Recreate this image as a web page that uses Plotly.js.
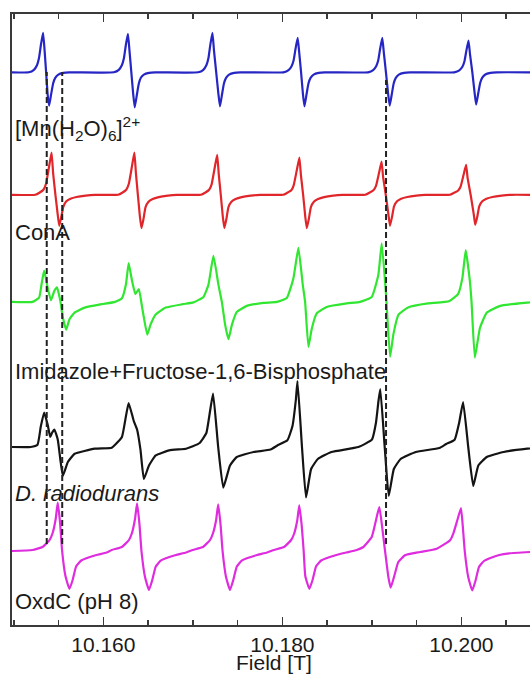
<!DOCTYPE html>
<html>
<head>
<meta charset="utf-8">
<script src="https://cdn.plot.ly/plotly-3.0.1.min.js"></script>
<style>html,body{margin:0;padding:0;background:#fff;}#chart{width:530px;height:674px;}</style>
</head>
<body>
<div id="chart"></div>
<script>
// ---------------- DATA (magnetic field in T, derivative signal in arbitrary units) ----------------
const sampleLabels = ['[Mn(H<sub>2</sub>O)<sub>6</sub>]<sup>2+</sup>', 'ConA', 'Imidazole+Fructose-1,6-Bisphosphate', '<i>D. radiodurans</i>', 'OxdC (pH 8)'];
const axisTitle = 'Field [T]';

const fieldTicks = [10.16, 10.18, 10.20];
const fieldTickText = ['10.160', '10.180', '10.200'];
const fieldMinorTicks = [10.150, 10.155, 10.165, 10.170, 10.175, 10.185, 10.190, 10.195, 10.205];
const markerFields = [10.15368, 10.15541, 10.19158];

const mnField = [10.14980,
 10.15168, 10.15225, 10.15259, 10.15281, 10.15304, 10.15327, 10.15344, 10.15361, 10.15378, 10.15395, 10.15417, 10.15440, 10.15463, 10.15497, 10.15553, 10.15621,
 10.16117, 10.16173, 10.16207, 10.16230, 10.16253, 10.16275, 10.16292, 10.16313, 10.16334, 10.16351, 10.16374, 10.16396, 10.16419, 10.16453, 10.16510, 10.16578,
 10.17060, 10.17117, 10.17151, 10.17174, 10.17196, 10.17219, 10.17236, 10.17261, 10.17286, 10.17303, 10.17326, 10.17348, 10.17371, 10.17405, 10.17462, 10.17530,
 10.18012, 10.18069, 10.18103, 10.18126, 10.18148, 10.18171, 10.18188, 10.18209, 10.18230, 10.18247, 10.18270, 10.18292, 10.18315, 10.18349, 10.18406, 10.18474,
 10.18957, 10.19014, 10.19048, 10.19071, 10.19093, 10.19116, 10.19133, 10.19157, 10.19182, 10.19199, 10.19222, 10.19244, 10.19267, 10.19301, 10.19358, 10.19426,
 10.19920, 10.19977, 10.20011, 10.20034, 10.20056, 10.20079, 10.20096, 10.20122, 10.20148, 10.20165, 10.20188, 10.20210, 10.20233, 10.20267, 10.20324, 10.20392,
 10.20766];
const mnSignal = [0,
 0, 2.5, 7, 14, 28, 39.4, 22, 0, -22, -33.3, -22, -11, -5.5, -2.3, -0.6, 0,
 0, 2.5, 7, 14, 28, 38.4, 22, 0, -22, -35, -23, -11.5, -5.5, -2.3, -0.6, 0,
 0, 2.5, 7, 14, 28, 39.4, 22, 0, -22, -34, -22, -11, -5.5, -2.3, -0.6, 0,
 0, 2.2, 6, 12, 24, 34.4, 20, 0, -22, -34, -22, -11, -5.5, -2.3, -0.6, 0,
 0, 2.2, 6, 12, 24, 34.4, 20, 0, -22, -33.3, -22, -11, -5.5, -2.3, -0.6, 0,
 0, 2, 5.5, 11, 22, 31.7, 18, 0, -21, -32.3, -21, -10.5, -5.3, -2.2, -0.6, 0,
 0];

const conaField = [10.14980,
 10.15241, 10.15286, 10.15331, 10.15360, 10.15394, 10.15422, 10.15439, 10.15465, 10.15491, 10.15508, 10.15531, 10.15553, 10.15587, 10.15633, 10.15701, 10.15803, 10.15905,
 10.16166, 10.16211, 10.16256, 10.16285, 10.16319, 10.16347, 10.16364, 10.16386, 10.16409, 10.16426, 10.16449, 10.16471, 10.16505, 10.16551, 10.16619, 10.16721, 10.16823,
 10.17091, 10.17136, 10.17182, 10.17210, 10.17244, 10.17272, 10.17289, 10.17312, 10.17335, 10.17352, 10.17375, 10.17397, 10.17431, 10.17477, 10.17545, 10.17647, 10.17749,
 10.18009, 10.18054, 10.18100, 10.18128, 10.18162, 10.18190, 10.18207, 10.18232, 10.18256, 10.18273, 10.18296, 10.18318, 10.18352, 10.18398, 10.18466, 10.18568, 10.18670,
 10.18927, 10.18972, 10.19017, 10.19046, 10.19080, 10.19108, 10.19125, 10.19155, 10.19185, 10.19202, 10.19225, 10.19247, 10.19281, 10.19327, 10.19395, 10.19497, 10.19599,
 10.19871, 10.19916, 10.19961, 10.19990, 10.20024, 10.20052, 10.20069, 10.20103, 10.20137, 10.20154, 10.20177, 10.20199, 10.20233, 10.20279, 10.20347, 10.20449, 10.20551,
 10.20766];
const conaSignal = [0,
 0, 2, 5, 11, 28, 42.3, 22, 0, -20, -31, -22, -12, -6.5, -4, -2.2, -0.8, 0,
 0, 2, 5, 11, 28, 42.3, 22, 0, -22, -33.3, -24, -12.5, -7, -4.3, -2.3, -0.8, 0,
 0, 2, 5, 10.5, 27, 40, 21, 0, -22, -33.3, -24, -12.5, -7, -4.3, -2.3, -0.8, 0,
 0, 2, 4.5, 10, 25, 37.3, 20, 0, -22, -33.3, -24, -12.5, -7, -4.3, -2.3, -0.8, 0,
 0, 2, 4.5, 9, 22, 33.3, 18, 0, -20, -31, -22, -11.5, -6.5, -4, -2.2, -0.8, 0,
 0, 2, 4, 8, 20, 30, 17, 0, -19, -30, -22, -11.5, -6.5, -4, -2.2, -0.8, 0,
 0];

const imidField = [10.14980,
 10.15208, 10.15283, 10.15310, 10.15339, 10.15378, 10.15415, 10.15453, 10.15483, 10.15520, 10.15548, 10.15585, 10.15622, 10.15679, 10.15792, 10.15981, 10.16132,
 10.16208, 10.16253, 10.16283, 10.16321, 10.16358, 10.16397, 10.16434, 10.16491, 10.16528, 10.16585, 10.16698, 10.16887, 10.17007,
 10.17119, 10.17174, 10.17230, 10.17286, 10.17324, 10.17361, 10.17398, 10.17436, 10.17491, 10.17603, 10.17788, 10.17938,
 10.18050, 10.18123, 10.18179, 10.18228, 10.18254, 10.18291, 10.18329, 10.18384, 10.18496, 10.18719, 10.18868,
 10.18998, 10.19072, 10.19110, 10.19158, 10.19203, 10.19241, 10.19296, 10.19404, 10.19627, 10.19817,
 10.19867, 10.19962, 10.20011, 10.20048, 10.20094, 10.20113, 10.20150, 10.20207, 10.20282, 10.20433, 10.20735,
 10.20766];
const imidSignal = [0,
 0, 4.3, 17.7, 31.4, 14.3, 1.7, 11, 14.5, 1, -15.7, -27.7, -17.3, -10.7, -5.7, -2.3, 0,
 3.7, 17.7, 38.8, 21, 7.8, 12.9, -5.7, -32.7, -22.5, -12.5, -5.7, -2.3, -0.5,
 5, 17, 46, 17, 0, -23, -37.3, -23, -10, -4, -1, 0,
 4, 23.5, 54, 17, 0, -45, -26.5, -11.5, -5, -1.5, 0,
 5, 27, 58.5, 7, -55, -32, -13, -5.5, -1.5, 0,
 1, 7.7, 24, 51.7, 21, 0, -55.8, -26, -10.8, -4, -0.7,
 -0.5];

const draField = [10.14980,
 10.15189, 10.15265, 10.15302, 10.15339, 10.15378, 10.15407, 10.15426, 10.15453, 10.15491, 10.15520, 10.15548, 10.15604, 10.15679, 10.15905, 10.16094,
 10.16132, 10.16208, 10.16253, 10.16283, 10.16340, 10.16377, 10.16415, 10.16453, 10.16510, 10.16585, 10.16736, 10.16924,
 10.17000, 10.17076, 10.17151, 10.17189, 10.17226, 10.17283, 10.17340, 10.17415, 10.17490, 10.17679, 10.17868,
 10.17943, 10.18056, 10.18113, 10.18151, 10.18169, 10.18219, 10.18264, 10.18321, 10.18396, 10.18547,
 10.18849, 10.19000, 10.19045, 10.19075, 10.19094, 10.19143, 10.19188, 10.19245, 10.19321, 10.19490, 10.19754,
 10.19830, 10.19924, 10.19974, 10.20019, 10.20076, 10.20132, 10.20189, 10.20283, 10.20472, 10.20736,
 10.20766];
const draSignal = [0,
 0, 2.3, 20.7, 34.5, 22.5, 10, 14, 17.5, 7.5, -12.5, -28.7, -15, -6.8, -1.7, -0.7,
 2.3, 10, 31, 44, 26, 17.5, -2.7, -32, -18.5, -8.4, -3.4, -1.7,
 0.7, 4, 14, 34, 53.4, 0, -40.6, -18.5, -10, -5, -2.5,
 1.5, 6.7, 21, 47.5, 66, 0, -50.5, -22, -12, -5,
 0, 7.3, 24, 47, 58, 0, -49, -22, -12, -5, -1,
 3, 7.3, 24, 45, 0, -39, -18.5, -10, -5, -1.7,
 -1.5];

const oxdcField = [10.14980,
 10.15208, 10.15321, 10.15400, 10.15434, 10.15468, 10.15491, 10.15517, 10.15540, 10.15577, 10.15622, 10.15659, 10.15697, 10.15753, 10.15810, 10.15923, 10.16036,
 10.16094, 10.16207, 10.16286, 10.16320, 10.16354, 10.16377, 10.16403, 10.16426, 10.16465, 10.16510, 10.16547, 10.16585, 10.16641, 10.16698, 10.16811, 10.16924,
 10.17000, 10.17113, 10.17192, 10.17226, 10.17260, 10.17283, 10.17309, 10.17332, 10.17370, 10.17415, 10.17452, 10.17490, 10.17546, 10.17603, 10.17716, 10.17829,
 10.17906, 10.18019, 10.18098, 10.18132, 10.18166, 10.18189, 10.18215, 10.18238, 10.18256, 10.18302, 10.18339, 10.18377, 10.18433, 10.18490, 10.18603, 10.18716,
 10.18830, 10.18905, 10.18998, 10.19054, 10.19083, 10.19110, 10.19147, 10.19184, 10.19210, 10.19247, 10.19295, 10.19370, 10.19538, 10.19724,
 10.19873, 10.19909, 10.19954, 10.19995, 10.20015, 10.20037, 10.20076, 10.20121, 10.20158, 10.20196, 10.20252, 10.20309, 10.20422, 10.20535,
 10.20766];
const oxdcSignal = [0,
 1, 4, 11, 18, 32, 48.3, 28, 0, -25, -37.9, -28.5, -15.2, -9.5, -7.2, -4, -1.5,
 1, 4, 11, 18, 32, 47.7, 27.7, 0, -25.7, -38.9, -29, -15.7, -9.7, -7.3, -4, -1.5,
 1, 4, 11, 18, 31, 46.6, 27, 0, -25.7, -38.9, -29, -15.7, -9.7, -7.3, -4, -1.5,
 1, 4, 11, 17.5, 30.5, 45.6, 26.5, 0, -25, -37.9, -28.5, -15.2, -9.5, -7.2, -4, -1.5,
 1, 4, 14, 34, 44, 27.3, 0, -26, -36.7, -26, -11, -4.3, -1, 2.3,
 10.7, 17.3, 30.7, 42.8, 25, 0, -26, -39.5, -29.5, -16, -10, -7.5, -4, -2.3,
 -1];

// ---------------- STYLE / LAYOUT ----------------
const seriesFields = [mnField, conaField, imidField, draField, oxdcField];
const seriesSignals = [mnSignal, conaSignal, imidSignal, draSignal, oxdcSignal];
const stackOffsets = [552.7, 430.2, 323.1, 178, 74];
const colors = ['#2626c4', '#e0262a', '#30e630', '#141414', '#de2cde'];
const labelY = [479, 378, 239, 117, 9];
const FONT = 'Liberation Sans, Arial, Helvetica, sans-serif';
const AXC = '#3a3a3a';
const FS = 22;

const traces = seriesFields.map((xs, i) => ({
  type: 'scatter', mode: 'lines',
  x: xs,
  y: seriesSignals[i].map(v => v + stackOffsets[i]),
  line: {color: colors[i], width: 2.2, shape: 'spline', smoothing: 0.4},
  hoverinfo: 'skip'
}));

const shapeTops = [553, 553, 545];
const shapes = markerFields.map((f, i) => ({
  type: 'line', xref: 'x', yref: 'y',
  x0: f, x1: f, y0: 81, y1: shapeTops[i],
  line: {color: '#222', width: 2, dash: '6px,3px'},
  layer: 'above'
}));

const annotations = sampleLabels.map((t, i) => ({
  text: t, xref: 'paper', yref: 'y', x: 0, y: labelY[i],
  xanchor: 'left', yanchor: 'bottom', xshift: 1, showarrow: false,
  font: {family: FONT, size: FS, color: '#1a1a1a'}
}));
annotations.push({
  text: axisTitle, xref: 'paper', yref: 'paper', x: 0.506, y: -0.0606,
  xanchor: 'center', yanchor: 'middle', showarrow: false, borderpad: 0,
  font: {family: FONT, size: 21, color: '#1a1a1a'}
});

const layout = {
  width: 530, height: 674,
  margin: {l: 12, r: 0, t: 14, b: 49, pad: 0},
  paper_bgcolor: '#fff', plot_bgcolor: '#fff',
  showlegend: false,
  font: {family: FONT, size: FS, color: '#1a1a1a'},
  xaxis: {
    range: [10.14980, 10.20766], autorange: false,
    tickmode: 'array', tickvals: fieldTicks, ticktext: fieldTickText,
    ticks: 'inside', ticklen: 8, tickwidth: 1.5, tickcolor: AXC,
    minor: {tickmode: 'array', tickvals: fieldMinorTicks, ticks: 'inside', ticklen: 5, tickwidth: 1.5, tickcolor: AXC, showgrid: false},
    showline: true, linewidth: 2, linecolor: AXC, mirror: 'ticks',
    showgrid: false, zeroline: false,
    tickfont: {family: FONT, size: 21, color: '#1a1a1a'},
    automargin: false
  },
  yaxis: {
    range: [0, 611], autorange: false,
    showline: true, linewidth: 2, linecolor: AXC, mirror: false,
    ticks: '', showticklabels: false, showgrid: false, zeroline: false
  },
  shapes: shapes,
  annotations: annotations
};

Plotly.newPlot('chart', traces, layout, {staticPlot: true, displayModeBar: false});
</script>
</body>
</html>
